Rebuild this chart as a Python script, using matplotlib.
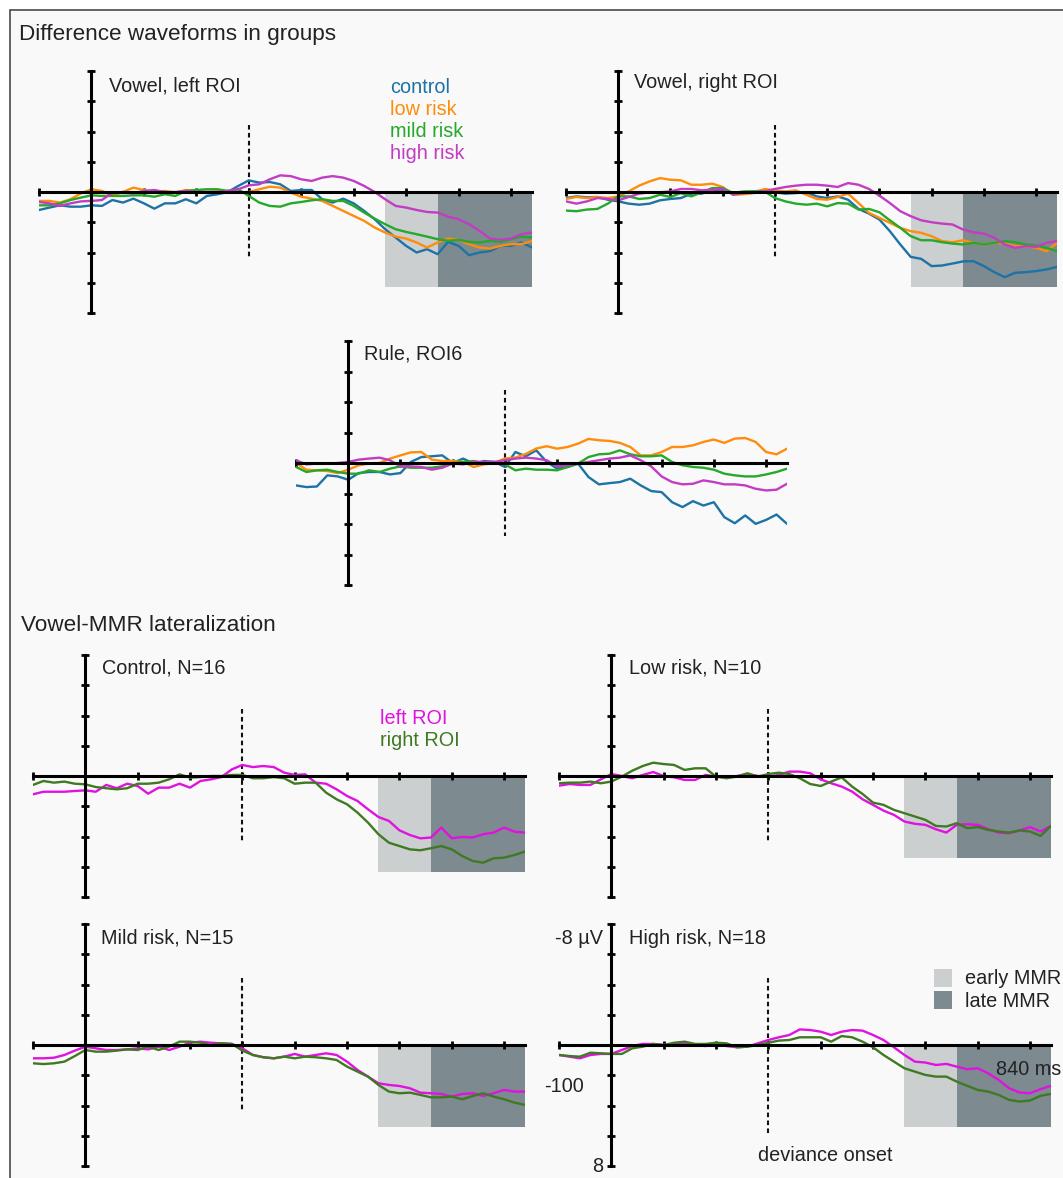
import matplotlib
matplotlib.use('Agg')
import matplotlib.pyplot as plt
from matplotlib.patches import Rectangle
import numpy as np

plt.rcParams['font.family'] = ['Liberation Sans', 'DejaVu Sans']

# time axis (ms), one sample every 20 ms
t = np.arange(-100, 841, 20)

# --- difference waveforms (uV, negative up) ---
vl_control = [1.19, 1.03, 0.88, 0.97, 0.97, 0.88, 0.92, 0.53,
              0.70, 0.44, 0.75, 1.10, 0.75, 0.75, 0.48, 0.75,
              0.26, 0.15, 0.00, -0.40, -0.77, -0.62, -0.66, -0.51,
              -0.07, -0.13, -0.13, 0.48, 0.70, 0.44, 0.75, 1.25,
              1.80, 2.46, 3.01, 3.56, 4.00, 3.78, 4.11, 3.30,
              3.56, 4.18, 4.00, 3.91, 3.56, 3.56, 3.34, 3.67]
vl_low = [0.59, 0.59, 0.70, 0.48, 0.09, -0.18, -0.07, 0.22,
          0.00, -0.29, -0.13, 0.00, -0.07, 0.04, -0.13, -0.07,
          0.00, -0.04, -0.07, 0.04, 0.00, -0.18, -0.35, -0.29,
          0.04, 0.31, 0.44, 0.59, 0.92, 1.25, 1.58, 1.91,
          2.35, 2.68, 2.95, 3.08, 3.34, 3.67, 3.34, 3.08,
          3.16, 3.45, 3.67, 3.74, 3.56, 3.45, 3.45, 3.23]
vl_mild = [0.88, 0.88, 0.75, 0.53, 0.37, 0.22, 0.26, 0.26,
           0.26, 0.22, 0.22, 0.31, 0.15, 0.26, -0.07, -0.13,
           -0.18, -0.18, -0.07, -0.18, 0.26, 0.70, 0.92, 0.97,
           0.75, 0.66, 0.55, 0.48, 0.59, 0.59, 0.92, 1.36,
           1.76, 2.13, 2.46, 2.64, 2.79, 2.95, 3.12, 3.23,
           3.16, 3.30, 3.34, 3.23, 3.30, 3.12, 2.95, 3.01]
vl_high = [0.66, 0.75, 0.92, 0.75, 0.62, 0.59, 0.53, 0.04,
           0.00, 0.09, -0.07, -0.13, 0.00, 0.00, -0.07, 0.00,
           0.00, 0.00, -0.07, -0.18, -0.44, -0.51, -0.84, -1.10,
           -1.05, -0.84, -0.73, -0.95, -1.05, -0.95, -0.73, -0.40,
           0.00, 0.48, 0.92, 1.03, 1.19, 1.32, 1.36, 1.63,
           1.80, 2.13, 2.57, 3.08, 3.16, 3.08, 2.79, 2.68]

vr_control = [0.40, 0.29, 0.35, 0.33, 0.51, 0.62, 0.77, 0.84,
              0.77, 0.55, 0.46, 0.40, 0.11, 0.11, -0.15, -0.04,
              0.07, 0.02, -0.04, -0.11, 0.02, 0.11, 0.07, 0.02,
              0.29, 0.40, 0.29, 0.51, 1.12, 1.43, 1.82, 2.59,
              3.47, 4.29, 4.42, 4.90, 4.86, 4.73, 4.59, 4.57,
              4.90, 5.30, 5.63, 5.34, 5.30, 5.23, 5.12, 4.95]
vr_low = [0.46, 0.33, 0.40, 0.33, 0.40, 0.29, -0.04, -0.42,
          -0.70, -0.92, -0.81, -0.77, -0.48, -0.48, -0.55, -0.33,
          0.18, 0.15, 0.07, -0.20, -0.11, -0.04, -0.11, 0.18,
          0.46, 0.51, 0.33, 0.11, 0.73, 1.38, 1.71, 2.04,
          2.37, 2.59, 2.70, 2.92, 3.25, 3.32, 3.19, 3.36,
          3.47, 3.36, 3.41, 3.58, 3.58, 3.69, 3.91, 3.36]
vr_mild = [1.23, 1.27, 1.16, 1.12, 0.77, 0.29, 0.29, 0.46,
           0.40, 0.18, 0.33, 0.07, 0.29, 0.02, -0.26, -0.26,
           0.07, -0.04, -0.04, -0.04, 0.40, 0.62, 0.77, 0.84,
           0.77, 0.95, 0.73, 0.77, 1.16, 1.12, 1.34, 1.87,
           2.37, 2.92, 3.19, 3.19, 3.32, 3.41, 3.47, 3.36,
           3.47, 3.36, 3.25, 3.32, 3.47, 3.54, 3.69, 3.91]
vr_high = [0.62, 0.77, 0.62, 0.40, 0.46, 0.55, 0.33, 0.11,
           0.02, 0.02, -0.04, -0.20, -0.20, -0.11, -0.15, -0.20,
           0.18, 0.07, 0.02, -0.04, -0.20, -0.33, -0.42, -0.48,
           -0.48, -0.42, -0.33, -0.59, -0.48, -0.20, 0.24, 0.73,
           1.27, 1.60, 1.87, 2.00, 2.09, 2.15, 2.48, 2.66,
           2.75, 3.03, 3.47, 3.69, 3.58, 3.63, 3.36, 3.25]

ru_control = [1.47, 1.58, 1.54, 0.81, 0.88, 1.10, 0.66, 0.59,
              0.59, 0.75, 0.66, -0.07, -0.39, -0.44, -0.50, 0.00,
              -0.29, 0.04, -0.13, -0.07, 0.26, -0.72, -0.44, -0.83,
              -0.07, 0.37, 0.26, 0.04, 0.92, 1.40, 1.32, 1.25,
              1.03, 1.47, 1.84, 1.91, 2.57, 2.89, 2.50, 2.79,
              2.57, 3.55, 3.95, 3.44, 3.99, 3.73, 3.38, 3.99]
ru_low = [0.00, 0.44, 0.48, 0.53, 0.66, 0.44, 0.15, 0.04,
          0.00, -0.29, -0.50, -0.70, -0.72, -0.22, -0.13, -0.13,
          -0.07, 0.26, 0.09, 0.00, -0.30, -0.35, -0.60, -0.95,
          -1.10, -0.94, -1.05, -1.27, -1.58, -1.49, -1.45, -1.32,
          -1.05, -0.50, -0.50, -0.72, -1.05, -1.05, -1.16, -1.38,
          -1.54, -1.32, -1.60, -1.64, -1.38, -0.72, -0.57, -0.94]
ru_mild = [0.26, 0.59, 0.48, 0.44, 0.59, 0.70, 0.70, 0.48,
           0.59, 0.37, 0.22, 0.31, 0.31, 0.31, 0.22, 0.00,
           -0.07, -0.13, 0.00, -0.07, 0.09, 0.48, 0.37, 0.44,
           0.44, 0.48, 0.26, 0.04, -0.39, -0.57, -0.61, -0.83,
           -0.57, -0.44, -0.44, -0.50, -0.07, 0.15, 0.26, 0.31,
           0.44, 0.70, 0.81, 0.88, 0.88, 0.75, 0.59, 0.37]
ru_high = [-0.18, 0.09, 0.04, 0.04, 0.00, -0.07, -0.22, -0.29,
           -0.35, -0.18, 0.22, 0.22, 0.26, 0.44, 0.31, 0.04,
           0.09, -0.07, -0.07, -0.07, -0.18, -0.29, -0.35, -0.29,
           -0.18, 0.22, 0.15, 0.04, -0.07, -0.18, -0.29, -0.35,
           -0.50, -0.18, 0.22, 0.88, 1.25, 1.40, 1.36, 1.14,
           1.25, 1.40, 1.40, 1.47, 1.69, 1.80, 1.75, 1.36]

# --- lateralization (left ROI / right ROI) ---
ctl_left = [1.21, 1.04, 1.04, 1.04, 0.99, 0.95, 1.04, 0.59,
            0.81, 0.51, 0.66, 1.17, 0.77, 0.77, 0.51, 0.77,
            0.33, 0.22, 0.07, -0.44, -0.73, -0.59, -0.66, -0.59,
            -0.22, -0.07, -0.11, 0.44, 0.51, 0.88, 1.32, 1.65,
            2.20, 2.71, 2.97, 3.59, 3.90, 4.12, 4.07, 3.41,
            4.12, 4.03, 4.07, 3.85, 3.74, 3.41, 3.68, 3.74]
ctl_right = [0.59, 0.33, 0.44, 0.37, 0.51, 0.55, 0.73, 0.81,
             0.88, 0.81, 0.51, 0.51, 0.44, 0.22, -0.11, 0.11,
             0.07, 0.00, 0.00, -0.07, -0.07, 0.15, 0.15, 0.07,
             0.15, 0.51, 0.44, 0.44, 1.10, 1.54, 1.87, 2.42,
             3.08, 3.85, 4.41, 4.63, 4.85, 4.91, 4.78, 4.63,
             4.85, 5.29, 5.62, 5.73, 5.44, 5.40, 5.22, 5.00]
low_left = [0.64, 0.53, 0.59, 0.59, 0.22, -0.13, 0.00, 0.15,
            -0.07, -0.26, 0.00, 0.09, 0.26, 0.26, -0.07, 0.04,
            0.09, 0.00, -0.13, 0.00, 0.04, -0.07, -0.29, -0.29,
            -0.18, 0.22, 0.48, 0.70, 1.03, 1.54, 1.91, 2.29,
            2.57, 3.01, 3.16, 3.23, 3.52, 3.74, 3.23, 3.19,
            3.23, 3.52, 3.74, 3.78, 3.60, 3.38, 3.67, 3.30]
low_right = [0.48, 0.44, 0.44, 0.37, 0.48, 0.37, 0.04, -0.35,
             -0.66, -0.88, -0.79, -0.73, -0.40, -0.51, -0.51, 0.04,
             0.15, 0.04, -0.18, 0.04, -0.13, -0.22, -0.13, 0.15,
             0.53, 0.66, 0.37, 0.09, 0.70, 1.19, 1.76, 1.91,
             2.24, 2.46, 2.68, 2.90, 3.30, 3.34, 3.12, 3.45,
             3.38, 3.56, 3.67, 3.74, 3.60, 3.67, 3.96, 3.30]
mild_left = [0.88, 0.88, 0.84, 0.66, 0.37, 0.11, 0.22, 0.33,
             0.33, 0.29, 0.22, 0.29, 0.11, 0.33, 0.11, -0.15,
             -0.22, -0.15, -0.11, -0.07, 0.22, 0.66, 0.81, 0.88,
             0.77, 0.59, 0.77, 0.66, 0.55, 0.66, 1.10, 1.65,
             2.09, 2.53, 2.64, 2.71, 2.86, 3.15, 3.19, 3.24,
             3.41, 3.24, 3.19, 3.37, 3.19, 2.97, 3.08, 3.08]
mild_right = [1.21, 1.26, 1.21, 1.10, 0.73, 0.33, 0.44, 0.44,
              0.37, 0.29, 0.33, 0.11, 0.33, 0.11, -0.22, -0.22,
              -0.15, 0.00, -0.11, -0.07, 0.37, 0.66, 0.81, 0.88,
              0.77, 0.88, 0.77, 0.81, 0.88, 0.99, 1.43, 1.76,
              2.09, 2.64, 3.08, 3.19, 3.15, 3.30, 3.46, 3.46,
              3.41, 3.59, 3.37, 3.19, 3.41, 3.59, 3.81, 3.96]
high_left = [0.66, 0.77, 0.88, 0.66, 0.59, 0.59, 0.33, 0.07,
             -0.07, -0.07, 0.00, -0.07, -0.11, 0.00, 0.07, -0.07,
             0.07, 0.15, 0.11, -0.11, -0.33, -0.51, -0.66, -1.03,
             -0.99, -0.88, -0.66, -0.88, -0.99, -0.95, -0.66, -0.33,
             0.15, 0.66, 1.10, 1.16, 1.32, 1.25, 1.43, 1.60,
             1.54, 1.87, 2.31, 2.86, 3.14, 3.19, 2.92, 2.70]
high_right = [0.66, 0.73, 0.77, 0.51, 0.55, 0.59, 0.59, 0.22,
              0.11, -0.07, 0.00, -0.15, -0.22, -0.07, -0.07, -0.15,
              -0.11, 0.15, 0.11, 0.00, -0.15, -0.29, -0.33, -0.51,
              -0.51, -0.51, -0.22, -0.59, -0.51, -0.22, 0.15, 0.66,
              1.10, 1.54, 1.76, 1.98, 2.09, 2.09, 2.42, 2.70,
              2.97, 3.08, 3.30, 3.63, 3.74, 3.67, 3.36, 3.23]

groups = ['control', 'low risk', 'mild risk', 'high risk']
group_colors = ['#1d72a6', '#ff8c0a', '#26a82a', '#c23cc4']
roi_labels = ['left ROI', 'right ROI']
roi_colors = ['#e012e0', '#3f7a22']

onset = 300
early_win = (560, 660)
late_win = (660, 840)
early_col = '#cbcfd0'
late_col = '#7d8a90'
txt = '#222222'

W, H = 1063, 1178
fig = plt.figure(figsize=(W / 100, H / 100), dpi=100)
fig.add_artist(Rectangle((10 / W, -0.05), 1.1, 1.05 - 10 / H, transform=fig.transFigure,
                         facecolor='#f9f9f9', edgecolor='#4a4a4a', lw=1.2, zorder=-10))


def ftext(x, y, s, **kw):
    kw.setdefault('color', txt)
    kw.setdefault('fontsize', 14.3)
    return fig.text(x / W, 1 - y / H, s, va='baseline', **kw)


def panel(x0, y0, x1, y1, series, colors, shade=None, dash=(-4.45, 4.35)):
    ax = fig.add_axes([x0 / W, 1 - y1 / H, (x1 - x0) / W, (y1 - y0) / H])
    ax.set_xlim(-100, 840)
    ax.set_ylim(8, -8)
    ax.patch.set_visible(False)
    for s in ['top', 'right']:
        ax.spines[s].set_visible(False)
    ax.spines['left'].set_position(('data', 0))
    ax.spines['bottom'].set_position(('data', 0))
    for s in ['left', 'bottom']:
        ax.spines[s].set_linewidth(2.2)
        ax.spines[s].set_zorder(2.5)
    ax.set_xticks(range(-100, 801, 100))
    ax.set_yticks(range(-8, 9, 2))
    ax.tick_params(direction='inout', length=5.5, width=2.0,
                   labelbottom=False, labelleft=False)
    if shade is not None:
        ax.fill_between(early_win, 0, shade, color=early_col, lw=0, zorder=0.5)
        ax.fill_between(late_win, 0, shade, color=late_col, lw=0, zorder=0.5)
    ax.vlines(onset, dash[0], dash[1], colors='#111111', lw=1.5,
              linestyles=(0, (2.2, 1.6)), zorder=1)
    for vals, c in zip(series, colors):
        ax.plot(t, vals, color=c, lw=1.7, zorder=2,
                solid_joinstyle='round', solid_capstyle='round')
    return ax


# Difference waveforms in groups
panel(39, 71, 532, 313, [vl_control, vl_low, vl_mild, vl_high], group_colors, shade=6.25)
panel(566, 71, 1057, 313, [vr_control, vr_low, vr_mild, vr_high], group_colors, shade=6.3)
panel(296, 341, 787, 585, [ru_control, ru_low, ru_mild, ru_high], group_colors,
      dash=(-4.8, 4.8))

# Vowel-MMR lateralization
panel(33, 655, 525, 897, [ctl_left, ctl_right], roi_colors, shade=6.35)
panel(559, 655, 1051, 897, [low_left, low_right], roi_colors, shade=5.45)
panel(33, 924, 525, 1166, [mild_left, mild_right], roi_colors, shade=5.45)
panel(559, 924, 1051, 1166, [high_left, high_right], roi_colors, shade=5.45,
      dash=(-4.45, 5.8))

ftext(19, 40, 'Difference waveforms in groups', fontsize=16.2)
ftext(21, 631, 'Vowel-MMR lateralization', fontsize=16.2)

ftext(109, 92, 'Vowel, left ROI')
ftext(634, 88, 'Vowel, right ROI')
ftext(364, 359, 'Rule, ROI6')
ftext(102, 673, 'Control, N=16')
ftext(629, 673, 'Low risk, N=10')
ftext(101, 944, 'Mild risk, N=15')
ftext(629, 944, 'High risk, N=18')

for i, (g, c) in enumerate(zip(groups, group_colors)):
    ftext(390, 93 + 22 * i, g, color=c)
for i, (r, c) in enumerate(zip(roi_labels, roi_colors)):
    ftext(380, 724 + 22.5 * i, r, color=c)

# MMR window key
for i, (lab, c) in enumerate(zip(['early MMR', 'late MMR'], [early_col, late_col])):
    fig.add_artist(Rectangle((934 / W, 1 - (987 + 22 * i) / H), 18 / W, 18 / H,
                             transform=fig.transFigure, facecolor=c, lw=0))
    ftext(965, 984 + 23 * i, lab)

# axis scale annotations
ftext(603, 944, '-8 µV', ha='right')
ftext(584, 1092, '-100', ha='right')
ftext(603, 1172, '8', ha='right')
ftext(996, 1075, '840 ms')
ftext(825, 1161, 'deviance onset', ha='center')

fig.savefig('out.png', dpi=100)
